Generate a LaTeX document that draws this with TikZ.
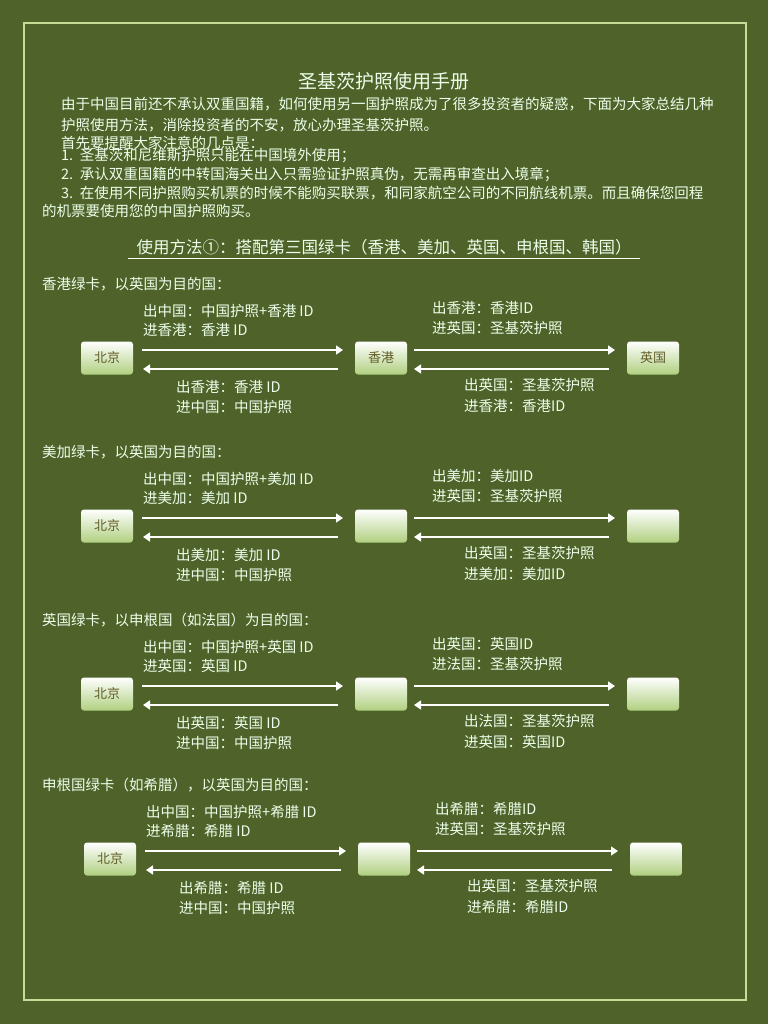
\documentclass[tikz,border=0pt]{standalone}
\usepackage{fontspec}
\setmainfont{Noto Sans CJK SC}
\usetikzlibrary{arrows.meta}
\begin{document}
\begin{tikzpicture}[x=1pt,y=-1pt,
  txt/.style={anchor=west,inner sep=0pt,text=white!92!green,font=\fontsize{14.5}{16}\selectfont},
  city/.style={rounded corners=3pt,minimum width=52pt,minimum height=33pt,inner sep=0pt,
     top color=white,bottom color=green!25!olive!50!white,text=olive!60!black,font=\fontsize{13}{14}\selectfont},
  arr/.style={draw=white,line width=1.6pt,-{Triangle[length=7pt,width=9pt]}}]
\fill[fill={rgb,255:red,79;green,98;blue,41}] (0,0) rectangle (768,1024);
\draw[draw={rgb,255:red,196;green,220;blue,150},line width=2.5pt] (24,23) rectangle (746,1000);
\node[txt,anchor=center,font=\fontsize{19}{21}\selectfont] (title) at (384,81) {圣基茨护照使用手册};
\node[txt] (p1) at (61,104) {由于中国目前还不承认双重国籍，如何使用另一国护照成为了很多投资者的疑惑，下面为大家总结几种};
\node[txt] (p2) at (61,125) {护照使用方法，消除投资者的不安，放心办理圣基茨护照。};
\node[txt] (p3) at (61,143) {首先要提醒大家注意的几点是：};
\node[txt] (p4) at (61,156) {1.\ \ 圣基茨和尼维斯护照只能在中国境外使用；};
\node[txt] (p5) at (61,174) {2.\ \ 承认双重国籍的中转国海关出入只需验证护照真伪，无需再审查出入境章；};
\node[txt] (p6) at (61,193) {3.\ \ 在使用不同护照购买机票的时候不能购买联票，和同家航空公司的不同航线机票。而且确保您回程};
\node[txt] (p7) at (42,211) {的机票要使用您的中国护照购买。};
\node[txt,anchor=center,font=\fontsize{16.5}{18}\selectfont] (m) at (384,247) {使用方法①：搭配第三国绿卡（香港、美加、英国、申根国、韩国）};
\draw[white,line width=0.8pt] (128,258) -- (640,258);
\newcommand\sect[9]{%
\begin{scope}[shift={(#1,#2)}]
\node[txt] at (42-#1,284) {#3};
\node[city] (a#2) at (107,358) {北京};
\node[city] (b#2) at (381,358) {#4};
\node[city] (c#2) at (653,358) {#5};
\draw[arr] (142,350) -- (343,350);
\draw[arr] (338,369) -- (143,369);
\draw[arr] (414,350) -- (615,350);
\draw[arr] (609,369) -- (414,369);
\node[txt] at (143,311) {出中国：中国护照+#6 ID};
\node[txt] at (143,330) {进#6：#6 ID};
\node[txt] at (176,387) {出#6：#6 ID};
\node[txt] at (176,407) {进中国：中国护照};
\node[txt] at (432,308) {出#6：#6ID};
\node[txt] at (432,328) {进#7：圣基茨护照};
\node[txt] at (464,385) {出#8：圣基茨护照};
\node[txt] at (464,406) {进#9：#6ID};
\end{scope}}
\sect{0}{0}{香港绿卡，以英国为目的国：}{香港}{英国}{香港}{英国}{英国}{香港}
\sect{0}{168}{美加绿卡，以英国为目的国：}{}{}{美加}{英国}{英国}{美加}
\sect{0}{336}{英国绿卡，以申根国（如法国）为目的国：}{}{}{英国}{法国}{法国}{英国}
\sect{3}{501}{申根国绿卡（如希腊），以英国为目的国：}{}{}{希腊}{英国}{英国}{希腊}
\end{tikzpicture}
\end{document}
